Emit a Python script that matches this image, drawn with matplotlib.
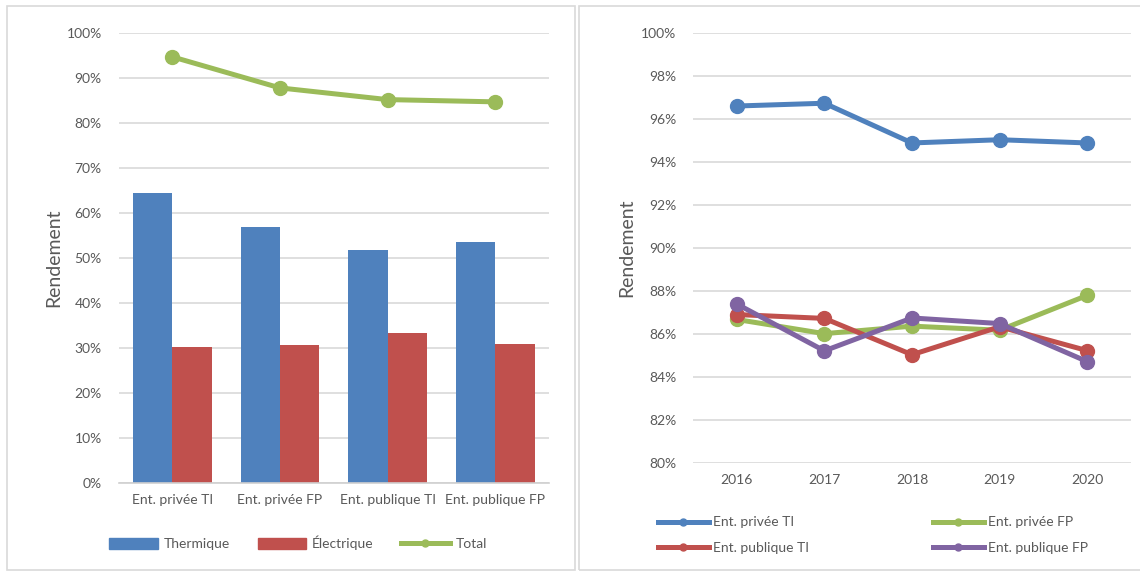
import matplotlib
matplotlib.use("Agg")
import matplotlib.pyplot as plt
from matplotlib.patches import Rectangle
from matplotlib.lines import Line2D
from matplotlib.ticker import FuncFormatter
import numpy as np

plt.rcParams['font.family'] = ['Lato', 'DejaVu Sans']

# Left chart data
categories = ["Ent. privée TI", "Ent. privée FP", "Ent. publique TI", "Ent. publique FP"]
thermique = [64.4, 56.9, 51.8, 53.6]
electrique = [30.2, 30.7, 33.3, 30.9]
total = [94.7, 87.8, 85.2, 84.7]

# Right chart data
years = ["2016", "2017", "2018", "2019", "2020"]
prive_ti = [96.6, 96.73, 94.88, 95.03, 94.88]
prive_fp = [86.66, 86.0, 86.35, 86.16, 87.78]
publique_ti = [86.89, 86.71, 85.02, 86.32, 85.21]
publique_fp = [87.38, 85.2, 86.73, 86.47, 84.7]

BLUE = "#4F81BD"
RED = "#C0504D"
GREEN = "#9BBB59"
PURPLE = "#8064A2"
TXT = "#595959"
GRID = "#D9D9D9"

W, H = 1140, 571
fig = plt.figure(figsize=(W / 100, H / 100), dpi=100)

def fx(px):
    return px / W

def fy(py):
    return 1 - py / H

# panel borders
for (x0, y0, x1, y1) in [(7, 6, 575, 570), (579, 6, 1145, 570)]:
    fig.patches.append(Rectangle((fx(x0), fy(y1)), fx(x1 - x0), fy(y0) - fy(y1),
                                 transform=fig.transFigure, fill=False,
                                 edgecolor="#D9D9D9", linewidth=1.2))

pct = FuncFormatter(lambda v, p: f"{v:.0f}%")
TS = 10

# ---------- Left chart ----------
ax1 = fig.add_axes([fx(118.5), fy(483), fx(549 - 118.5), fy(33) - fy(483)])
x = np.arange(len(categories))
bw = 0.366
ax1.bar(x - bw / 2, thermique, bw, color=BLUE, label="Thermique", zorder=2)
ax1.bar(x + bw / 2, electrique, bw, color=RED, label="Électrique", zorder=2)
ax1.plot(x, total, color=GREEN, lw=3.6, marker="o", ms=10, label="Total", zorder=3,
         solid_capstyle="round")
ax1.set_xlim(-0.5, len(categories) - 0.5)
ax1.set_ylim(0, 100)
ax1.set_yticks(np.arange(0, 101, 10))
ax1.yaxis.set_major_formatter(pct)
ax1.set_xticks(x)
ax1.set_xticklabels(categories)
ax1.grid(axis="y", color=GRID, lw=1.2, zorder=0)
for s in ["top", "right", "left"]:
    ax1.spines[s].set_visible(False)
ax1.spines["bottom"].set_color("#D0D0D0")
ax1.spines["bottom"].set_linewidth(1.2)
ax1.tick_params(length=0, colors=TXT, labelsize=TS)
ax1.tick_params(axis="y", pad=12)
ax1.tick_params(axis="x", pad=8)
ax1.set_ylabel("Rendement", fontsize=14, color=TXT, labelpad=3)

h1 = [Rectangle((0, 0), 1, 1, color=BLUE), Rectangle((0, 0), 1, 1, color=RED),
      Line2D([0], [0], color=GREEN, lw=3.6, marker="o", ms=5)]
leg1 = fig.legend(h1, ["Thermique", "Électrique", "Total"], loc="center",
                  bbox_to_anchor=(fx(298), fy(543)), ncol=3, frameon=False,
                  fontsize=TS, handlelength=3.5, handleheight=0.9, columnspacing=2.0,
                  handletextpad=0.4, labelcolor=TXT)

# ---------- Right chart ----------
ax2 = fig.add_axes([fx(693), fy(462.5), fx(1131 - 693), fy(33) - fy(462.5)])
xr = np.arange(len(years))
series = [(prive_ti, BLUE, "Ent. privée TI"), (prive_fp, GREEN, "Ent. privée FP"),
          (publique_ti, RED, "Ent. publique TI"), (publique_fp, PURPLE, "Ent. publique FP")]
handles = {}
for vals, c, lab in series:
    ax2.plot(xr, vals, color=c, lw=3.6, marker="o", ms=10, zorder=3, solid_capstyle="round")
    handles[lab] = Line2D([0], [0], color=c, lw=3.6, marker="o", ms=5)
ax2.set_xlim(-0.5, len(years) - 0.5)
ax2.set_ylim(80, 100)
ax2.set_yticks(np.arange(80, 101, 2))
ax2.yaxis.set_major_formatter(pct)
ax2.set_xticks(xr)
ax2.set_xticklabels(years)
ax2.grid(axis="y", color=GRID, lw=1.2, zorder=0)
for s in ["top", "right", "left", "bottom"]:
    ax2.spines[s].set_visible(False)
ax2.tick_params(length=0, colors=TXT, labelsize=TS)
ax2.tick_params(axis="y", pad=12)
ax2.tick_params(axis="x", pad=8)
ax2.set_ylabel("Rendement", fontsize=14, color=TXT, labelpad=4)

order = ["Ent. privée TI", "Ent. publique TI", "Ent. privée FP", "Ent. publique FP"]
leg2 = fig.legend([handles[k] for k in order], order, loc="center",
                  bbox_to_anchor=(fx(873), fy(535)), ncol=2, frameon=False,
                  fontsize=TS, handlelength=3.7, columnspacing=8.9,
                  handletextpad=0.3, labelspacing=0.95, labelcolor=TXT)

fig.savefig("out.png", dpi=100)
